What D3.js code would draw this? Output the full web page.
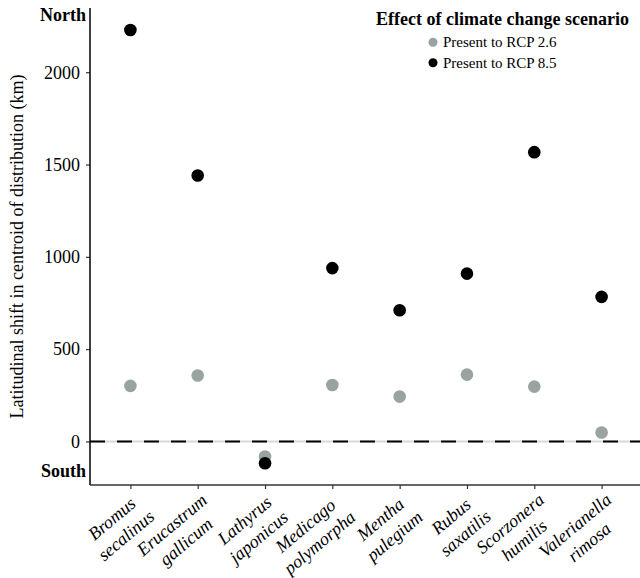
<!DOCTYPE html>
<html>
<head>
<meta charset="utf-8">
<script src="https://cdn.jsdelivr.net/npm/d3@7"></script>
<style>
	html, body { margin: 0; padding: 0; background: #fff; }
	svg { display: block; font-family: "Liberation Serif", "Times New Roman", serif; }
</style>
</head>
<body>
<svg id="chart"></svg>
<script>
// data
const species = [
	"Bromus secalinus", "Erucastrum gallicum", "Lathyrus japonicus", "Medicago polymorpha",
	"Mentha pulegium", "Rubus saxatilis", "Scorzonera humilis", "Valerianella rimosa",
];
const rcp26 = [301, 357, -82, 306, 243, 362, 297, 48];
const rcp85 = [2229, 1441, -118, 939, 711, 909, 1567, 783];
const yTicks = [0, 500, 1000, 1500, 2000];
const seriesNames = ["Present to RCP 2.6", "Present to RCP 8.5"];
const seriesColors = ["#99a3a2", "#000000"];

const width = 640;
const height = 578;
const margin = { top: 8, right: -2, bottom: 93, left: 90 };

const svg = d3.select("#chart")
              .attr("width", width)
              .attr("height", height);

const xScale = d3.scalePoint()
                 .domain(species)
                 .range([margin.left, width - margin.right])
                 .padding(0.6);
const yScale = d3.scaleLinear()
                 .domain([-236, 2348])
                 .range([height - margin.bottom, margin.top]);

const x0 = margin.left;
const x1 = width - margin.right;
const yBottom = height - margin.bottom;

// zero line: grey under black dashes
svg.append("line")
   .attr("x1", x0).attr("x2", x1)
   .attr("y1", yScale(0)).attr("y2", yScale(0))
   .attr("stroke", "#d9d9d9")
   .attr("stroke-width", 2);
svg.append("line")
   .attr("x1", x0).attr("x2", x1)
   .attr("y1", yScale(0)).attr("y2", yScale(0))
   .attr("stroke", "#000")
   .attr("stroke-width", 2)
   .attr("stroke-dasharray", "15,12");

// y axis
const yAxis = d3.axisLeft(yScale).tickValues(yTicks).tickFormat(d3.format("d")).tickSize(4).tickPadding(6);
svg.append("g")
   .attr("transform", `translate(${x0}, 0)`)
   .call(yAxis)
   .attr("font-family", null)
   .attr("font-size", 18)
   .call(g => g.select(".domain").remove())
   .call(g => g.selectAll(".tick line").attr("stroke", "#333").attr("stroke-width", 1.2))
   .call(g => g.selectAll(".tick text").attr("fill", "#000"));

svg.append("line")
   .attr("x1", x0).attr("x2", x0)
   .attr("y1", margin.top).attr("y2", yBottom)
   .attr("stroke", "#000")
   .attr("stroke-width", 1.5);

// x axis
const xAxis = d3.axisBottom(xScale).tickSize(4).tickFormat("");
svg.append("g")
   .attr("transform", `translate(0, ${yBottom})`)
   .call(xAxis)
   .call(g => g.select(".domain").remove())
   .call(g => g.selectAll(".tick line").attr("stroke", "#333").attr("stroke-width", 1.2));

svg.append("line")
   .attr("x1", x0).attr("x2", x1)
   .attr("y1", yBottom).attr("y2", yBottom)
   .attr("stroke", "#333")
   .attr("stroke-width", 1.5);

// species labels, two lines, rotated
const lab = svg.append("g")
               .selectAll("g")
               .data(species)
               .join("g")
               .attr("transform", d => `translate(${xScale(d) + 2}, ${yBottom + 6}) rotate(-40)`);

lab.each(function(d) {
	const g = d3.select(this);
	const lines = d.split(" ");
	const t = g.append("text")
	           .attr("font-size", 18)
	           .attr("font-style", "italic")
	           .attr("text-anchor", "middle");
	t.selectAll("tspan")
	 .data(lines)
	 .join("tspan")
	 .attr("x", 0)
	 .attr("y", (_, i) => 14 + i * 22)
	 .text(l => l);
	const w = t.node().getBBox().width;
	t.selectAll("tspan").attr("x", -w / 2);
});

// North / South
svg.append("text")
   .attr("x", 86).attr("y", 21)
   .attr("text-anchor", "end")
   .attr("font-size", 18)
   .attr("font-weight", "bold")
   .text("North");
svg.append("text")
   .attr("x", 86).attr("y", 477)
   .attr("text-anchor", "end")
   .attr("font-size", 18)
   .attr("font-weight", "bold")
   .text("South");

// y title
svg.append("text")
   .attr("transform", `translate(23, ${(margin.top + yBottom) / 2}) rotate(-90)`)
   .attr("text-anchor", "middle")
   .attr("font-size", 18)
   .text("Latitudinal shift in centroid of distribution (km)");

// points
const series = [rcp26, rcp85];
series.forEach((vals, s) => {
	svg.append("g")
	   .selectAll("circle")
	   .data(vals)
	   .join("circle")
	   .attr("cx", (d, i) => xScale(species[i]))
	   .attr("cy", d => yScale(d))
	   .attr("r", 6.3)
	   .attr("fill", seriesColors[s]);
});

// legend
const legend = svg.append("g");
legend.append("text")
      .attr("x", 376).attr("y", 25)
      .attr("font-size", 18)
      .attr("font-weight", "bold")
      .text("Effect of climate change scenario");
const item = legend.selectAll("g.item")
                   .data(seriesNames)
                   .join("g")
                   .attr("class", "item")
                   .attr("transform", (d, i) => `translate(433, ${42.3 + i * 20.5})`);
item.append("circle")
    .attr("r", 4.5)
    .attr("fill", (d, i) => seriesColors[i]);
item.append("text")
    .attr("x", 10)
    .attr("y", 5)
    .attr("font-size", 15)
    .text(d => d);
</script>
</body>
</html>
